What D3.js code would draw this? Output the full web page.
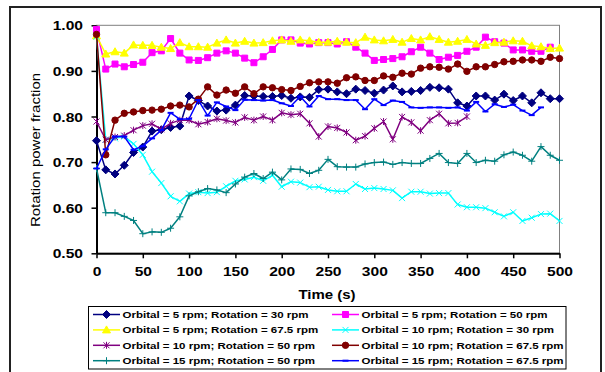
<!DOCTYPE html>
<html>
<head>
<meta charset="utf-8">
<script src="https://cdn.jsdelivr.net/npm/d3@7"></script>
<style>
  body { margin: 0; background: #fff; }
  svg { display: block; font-family: "Liberation Sans", Arial, sans-serif; }
</style>
</head>
<body>
<svg id="chart" width="605" height="372"></svg>
<script>
// time (s), sampled every 10 s
const times = [0, 10, 20, 30, 40, 50, 60, 70, 80, 90,
  100, 110, 120, 130, 140, 150, 160, 170, 180, 190,
  200, 210, 220, 230, 240, 250, 260, 270, 280, 290,
  300, 310, 320, 330, 340, 350, 360, 370, 380, 390,
  400, 410, 420, 430, 440, 450, 460, 470, 480, 490, 500];

const xTicks = [0, 50, 100, 150, 200, 250, 300, 350, 400, 450, 500];
const yTicks = [0.5, 0.6, 0.7, 0.8, 0.9, 1.0];

const seriesNames = [
  'Orbital = 5 rpm; Rotation = 30 rpm',
  'Orbital = 5 rpm; Rotation = 50 rpm',
  'Orbital = 5 rpm; Rotation = 67.5 rpm',
  'Orbital = 10 rpm; Rotation = 30 rpm',
  'Orbital = 10 rpm; Rotation = 50 rpm',
  'Orbital = 10 rpm; Rotation = 67.5 rpm',
  'Orbital = 15 rpm; Rotation = 50 rpm',
  'Orbital = 15 rpm; Rotation = 67.5 rpm'
];

const o5r30 = [0.747, 0.683, 0.674, 0.693, 0.721, 0.733, 0.768, 0.771, 0.776, 0.779,
  0.845, 0.835, 0.823, 0.812, 0.814, 0.825, 0.846, 0.845, 0.844, 0.844,
  0.846, 0.840, 0.843, 0.842, 0.859, 0.860, 0.854, 0.850, 0.860, 0.857,
  0.851, 0.858, 0.867, 0.854, 0.855, 0.857, 0.864, 0.863, 0.860, 0.830,
  0.823, 0.845, 0.845, 0.836, 0.849, 0.835, 0.845, 0.830, 0.852, 0.839, 0.839];

const o5r50 = [0.991, 0.904, 0.915, 0.909, 0.914, 0.919, 0.940, 0.944, 0.971, 0.939,
  0.924, 0.923, 0.929, 0.939, 0.944, 0.939, 0.928, 0.918, 0.931, 0.947,
  0.968, 0.968, 0.961, 0.959, 0.962, 0.962, 0.959, 0.964, 0.952, 0.939,
  0.923, 0.925, 0.927, 0.931, 0.942, 0.952, 0.939, 0.925, 0.930, 0.934,
  0.943, 0.952, 0.974, 0.964, 0.961, 0.946, 0.946, 0.943, 0.943, 0.952, null];

const o5r675 = [0.977, 0.937, 0.942, 0.939, 0.957, 0.956, 0.956, 0.952, 0.949, 0.962,
  0.953, 0.953, 0.952, 0.961, 0.968, 0.961, 0.965, 0.961, 0.962, 0.966,
  0.968, 0.965, 0.968, 0.966, 0.963, 0.963, 0.965, 0.963, 0.962, 0.974,
  0.968, 0.966, 0.969, 0.963, 0.971, 0.968, 0.975, 0.969, 0.963, 0.965,
  0.969, 0.959, 0.956, 0.962, 0.963, 0.966, 0.965, 0.955, 0.953, 0.949, 0.950];

const o10r30 = [0.975, 0.749, 0.752, 0.756, 0.740, 0.716, 0.679, 0.654, 0.625, 0.614,
  0.631, 0.634, 0.632, 0.634, 0.647, 0.659, 0.662, 0.667, 0.659, 0.671,
  0.646, 0.657, 0.655, 0.645, 0.646, 0.639, 0.636, 0.636, 0.652, 0.641,
  0.643, 0.641, 0.638, 0.621, 0.635, 0.635, 0.631, 0.632, 0.632, 0.607,
  0.601, 0.601, 0.599, 0.590, 0.581, 0.590, 0.571, 0.578, 0.586, 0.587, 0.571];

const o10r50 = [0.789, 0.749, 0.755, 0.758, 0.770, 0.780, 0.784, 0.772, 0.785, 0.792,
  0.792, 0.783, 0.788, 0.795, 0.791, 0.787, 0.798, 0.792, 0.800, 0.792,
  0.808, 0.804, 0.806, 0.785, 0.756, 0.778, 0.775, 0.765, 0.748, 0.757,
  0.774, 0.789, 0.750, 0.799, 0.787, 0.769, 0.792, 0.806, 0.785, 0.786,
  0.800, null, null, null, null, null, null, null, null, null, null];

const o10r675 = [0.980, 0.716, 0.792, 0.807, 0.810, 0.813, 0.814, 0.816, 0.823, 0.825,
  0.821, 0.838, 0.865, 0.847, 0.858, 0.851, 0.865, 0.850, 0.865, 0.863,
  0.859, 0.857, 0.866, 0.874, 0.876, 0.876, 0.873, 0.885, 0.887, 0.879,
  0.879, 0.889, 0.886, 0.895, 0.893, 0.906, 0.909, 0.908, 0.904, 0.915,
  0.899, 0.909, 0.909, 0.914, 0.920, 0.921, 0.924, 0.924, 0.921, 0.930, 0.927];

const o15r50 = [0.686, 0.589, 0.589, 0.581, 0.572, 0.543, 0.547, 0.546, 0.555, 0.580,
  0.626, 0.635, 0.642, 0.639, 0.633, 0.652, 0.667, 0.675, 0.664, 0.678,
  0.661, 0.685, 0.684, 0.675, 0.682, 0.706, 0.690, 0.689, 0.689, 0.696,
  0.699, 0.700, 0.695, 0.699, 0.697, 0.697, 0.708, 0.719, 0.699, 0.697,
  0.719, 0.699, 0.704, 0.702, 0.716, 0.722, 0.715, 0.702, 0.734, 0.715, 0.704];

const o15r675 = [0.686, 0.728, 0.756, 0.756, 0.727, 0.735, 0.752, 0.770, 0.808, 0.794,
  0.795, 0.836, 0.802, 0.831, 0.822, 0.814, 0.837, 0.836, 0.835, 0.836,
  0.829, 0.823, 0.844, 0.822, 0.845, 0.838, 0.838, 0.836, 0.836, 0.816,
  0.838, 0.825, 0.835, 0.832, 0.820, 0.819, 0.820, 0.820, 0.819, 0.820,
  0.813, 0.832, 0.811, 0.827, 0.821, 0.826, 0.813, 0.803, 0.820, null, null];

const seriesValues = [o5r30, o5r50, o5r675, o10r30, o10r50, o10r675, o15r50, o15r675];
const seriesColors = ['#000080', '#ff00ff', '#ffff00', '#00ffff', '#800080', '#800000', '#008080', '#0000ff'];
const seriesMarkers = ['diamond', 'square', 'triangle', 'times', 'star', 'circle', 'plus', 'dash'];

const svg = d3.select('#chart');
const SX = 1.2; // Excel lays text out wider than the font's own metrics

const plot = {left: 96.5, right: 559.5, top: 25.3, bottom: 253.3};

const x = d3.scaleLinear().domain([0, 500]).range([plot.left, plot.right]);
const y = d3.scaleLinear().domain([0.5, 1]).range([plot.bottom, plot.top]);

// chart area frame
svg.append('rect')
  .attr('x', 10).attr('y', 7)
  .attr('width', 591).attr('height', 400)
  .attr('fill', '#fff')
  .attr('stroke', '#222')
  .attr('stroke-width', 2);

// plot area border
svg.append('rect')
  .attr('x', plot.left).attr('y', plot.top)
  .attr('width', plot.right - plot.left)
  .attr('height', plot.bottom - plot.top)
  .attr('fill', '#fff')
  .attr('stroke', '#808080')
  .attr('stroke-width', 1);

// axes
const gy = svg.append('g')
  .attr('transform', 'translate(' + plot.left + ',0)')
  .call(d3.axisLeft(y).tickValues(yTicks).tickSize(5).tickSizeOuter(0).tickFormat(d3.format('.2f')));

const gx = svg.append('g')
  .attr('transform', 'translate(0,' + plot.bottom + ')')
  .call(d3.axisBottom(x).tickValues(xTicks).tickSize(5).tickSizeOuter(0));

[gx, gy].forEach(g => {
  g.select('.domain').attr('stroke', '#000').attr('stroke-width', 2);
  g.selectAll('.tick line').attr('stroke', '#000').attr('stroke-width', 1.5);
  g.selectAll('.tick text')
    .attr('fill', '#000')
    .style('font-family', '"Liberation Sans", Arial, sans-serif')
    .style('font-size', '13px')
    .style('font-weight', 'bold');
});

gy.selectAll('.tick text')
  .attr('x', -13.5 / SX)
  .attr('dy', '0.36em')
  .attr('transform', 'scale(' + SX + ',1)');

gx.selectAll('.tick text')
  .attr('y', 22.5)
  .attr('dy', 0)
  .attr('transform', 'scale(' + SX + ',1)');

// axis titles
svg.append('text')
  .attr('transform', 'translate(327,298.5) scale(' + SX + ',1)')
  .attr('text-anchor', 'middle')
  .style('font-size', '12.5px')
  .style('font-weight', 'bold')
  .text('Time (s)');

svg.append('text')
  .attr('transform', 'translate(39.5,150) rotate(-90) scale(' + SX + ',1)')
  .attr('text-anchor', 'middle')
  .style('font-size', '12.5px')
  .text('Rotation power fraction');

// markers
function markerPath(kind) {
  const p = d3.path();
  if (kind === 'diamond') {
    p.moveTo(0, -4); p.lineTo(4, 0); p.lineTo(0, 4); p.lineTo(-4, 0); p.closePath();
  } else if (kind === 'square') {
    p.rect(-3, -3, 6, 6);
  } else if (kind === 'triangle') {
    p.moveTo(0, -4); p.lineTo(4, 3); p.lineTo(-4, 3); p.closePath();
  } else if (kind === 'circle') {
    p.arc(0, 0, 3.2, 0, 2 * Math.PI);
  } else if (kind === 'times') {
    p.moveTo(-3, -3); p.lineTo(3, 3); p.moveTo(-3, 3); p.lineTo(3, -3);
  } else if (kind === 'star') {
    p.moveTo(-3, -3); p.lineTo(3, 3); p.moveTo(-3, 3); p.lineTo(3, -3);
    p.moveTo(0, -3.5); p.lineTo(0, 3.5);
  } else if (kind === 'plus') {
    p.moveTo(-3.5, 0); p.lineTo(3.5, 0); p.moveTo(0, -3.5); p.lineTo(0, 3.5);
  } else if (kind === 'dash') {
    p.moveTo(-3, 0); p.lineTo(3, 0);
  }
  return p.toString();
}
const filledMarkers = ['diamond', 'square', 'triangle', 'circle'];

function drawMarker(sel, kind, color) {
  const filled = filledMarkers.includes(kind);
  sel.attr('d', markerPath(kind))
    .attr('fill', filled ? color : 'none')
    .attr('stroke', color)
    .attr('stroke-width', kind === 'dash' ? 2 : 1);
}

const line = d3.line()
  .defined(d => d.v != null)
  .x(d => x(d.t))
  .y(d => y(d.v));

const seriesG = svg.append('g');

seriesValues.forEach((vals, i) => {
  const pts = times.map((t, j) => ({t: t, v: vals[j]}));
  const g = seriesG.append('g');
  g.append('path')
    .datum(pts)
    .attr('fill', 'none')
    .attr('stroke', seriesColors[i])
    .attr('stroke-width', 1.5)
    .attr('stroke-linejoin', 'round')
    .attr('d', line);
  g.selectAll('path.mk')
    .data(pts.filter(d => d.v != null))
    .enter().append('path')
    .attr('class', 'mk')
    .attr('transform', d => 'translate(' + x(d.t) + ',' + y(d.v) + ')')
    .call(drawMarker, seriesMarkers[i], seriesColors[i]);
});

// legend
const legend = svg.append('g');
legend.append('rect')
  .attr('x', 88.5).attr('y', 306.5)
  .attr('width', 477.5).attr('height', 62.5)
  .attr('fill', '#fff')
  .attr('stroke', '#000')
  .attr('stroke-width', 1);

const colX = [93, 332];
seriesNames.forEach((name, i) => {
  const cx = colX[i % 2];
  const cy = 314.5 + Math.floor(i / 2) * 15.4;
  const item = legend.append('g').attr('transform', 'translate(' + cx + ',' + cy + ')');
  item.append('line')
    .attr('x1', 0).attr('x2', 27)
    .attr('stroke', seriesColors[i])
    .attr('stroke-width', 1.5);
  item.append('path')
    .attr('transform', 'translate(13.5,0)')
    .call(drawMarker, seriesMarkers[i], seriesColors[i]);
  item.append('text')
    .attr('transform', 'translate(29.5,3.5) scale(' + SX + ',1)')
    .style('font-size', '9.6px')
    .style('font-weight', 'bold')
    .text(name);
});
</script>
</body>
</html>
